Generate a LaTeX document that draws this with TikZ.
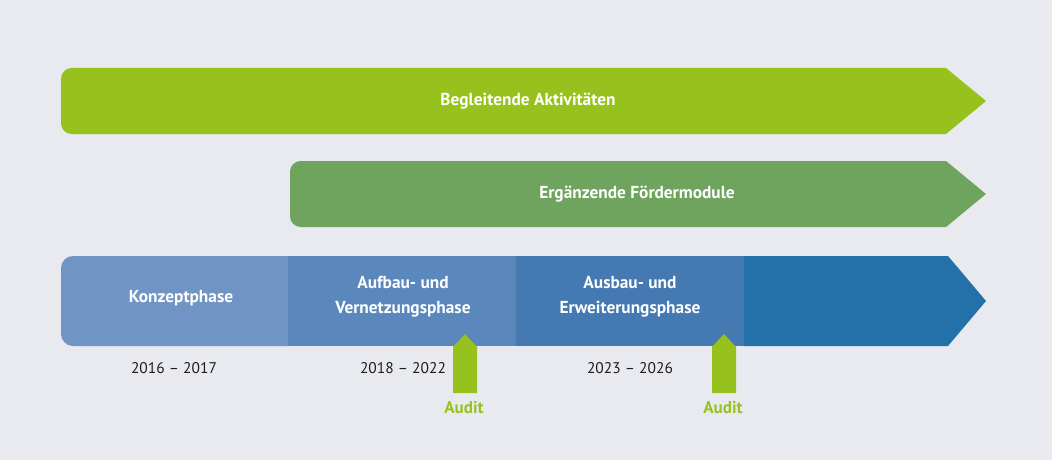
\documentclass[tikz,border=0pt]{standalone}
\usepackage{fontspec}
\setmainfont{PT Sans}
\usetikzlibrary{positioning}

\definecolor{bgGrey}{HTML}{E9EAEF}
\definecolor{limeGreen}{HTML}{97C21E}
\definecolor{sageGreen}{HTML}{6EA45E}
\definecolor{blueA}{HTML}{7095C4}
\definecolor{blueB}{HTML}{5A87BC}
\definecolor{blueC}{HTML}{4479B2}
\definecolor{blueD}{HTML}{2470A8}
\definecolor{yearText}{HTML}{1E1E1E}

\begin{document}
\begin{tikzpicture}[x=0.75pt, y=-0.75pt,
  barlabel/.style={text=white, font=\bfseries\fontsize{13}{18.75}\selectfont, align=center, inner sep=0pt},
  yearlabel/.style={text=yearText, font=\fontsize{11.6}{14}\selectfont, inner sep=0pt},
  auditlabel/.style={text=limeGreen, font=\bfseries\fontsize{12.8}{14}\selectfont, inner sep=0pt}]
\fill[bgGrey] (0,0) rectangle (1052,460);
\useasboundingbox (0,0) rectangle (1052,460);

% bars above
\fill[limeGreen, rounded corners=8] (500,68) -- (61,68) -- (61,134) -- (500,134) [sharp corners] -- (946,134) -- (986,101) -- (946,68) -- cycle;
\node[barlabel] (begleit) at (528,101) {Begleitende Aktivitäten};
\fill[sageGreen, rounded corners=8] (600,161) -- (290,161) -- (290,227) -- (600,227) [sharp corners] -- (946,227) -- (986,194) -- (946,161) -- cycle;
\node[barlabel] (foerder) at (637,194) {Ergänzende Fördermodule};

% phases
\fill[blueA, rounded corners=9] (200,256) -- (61,256) -- (61,346) -- (200,346) [sharp corners] -- (288,346) -- (288,256) -- cycle;
\fill[blueB] (288,256) rectangle (516,346);
\fill[blueC] (516,256) rectangle (744,346);
\fill[blueD] (744,256) -- (948,256) -- (986,301) -- (948,346) -- (744,346) -- cycle;
\node[barlabel] (konzept) at (181,298) {Konzeptphase};
\node[barlabel] (aufbau) at (403,297) {Aufbau- und\\Vernetzungsphase};
\node[barlabel] (ausbau) at (630,297) {Ausbau- und\\Erweiterungsphase};

% years
\node[yearlabel] (y1) at (174,368) {2016 – 2017};
\node[yearlabel] (y2) at (403,368) {2018 – 2022};
\node[yearlabel] (y3) at (630,368) {2023 – 2026};

% audits
\fill[limeGreen] (453,393) -- (453,347) -- (465,334) -- (477,347) -- (477,393) -- cycle;
\node[auditlabel] (audit1) at (464,408) {Audit};
\fill[limeGreen] (712,393) -- (712,347) -- (724,334) -- (736,347) -- (736,393) -- cycle;
\node[auditlabel] (audit2) at (723,408) {Audit};
\end{tikzpicture}
\end{document}
